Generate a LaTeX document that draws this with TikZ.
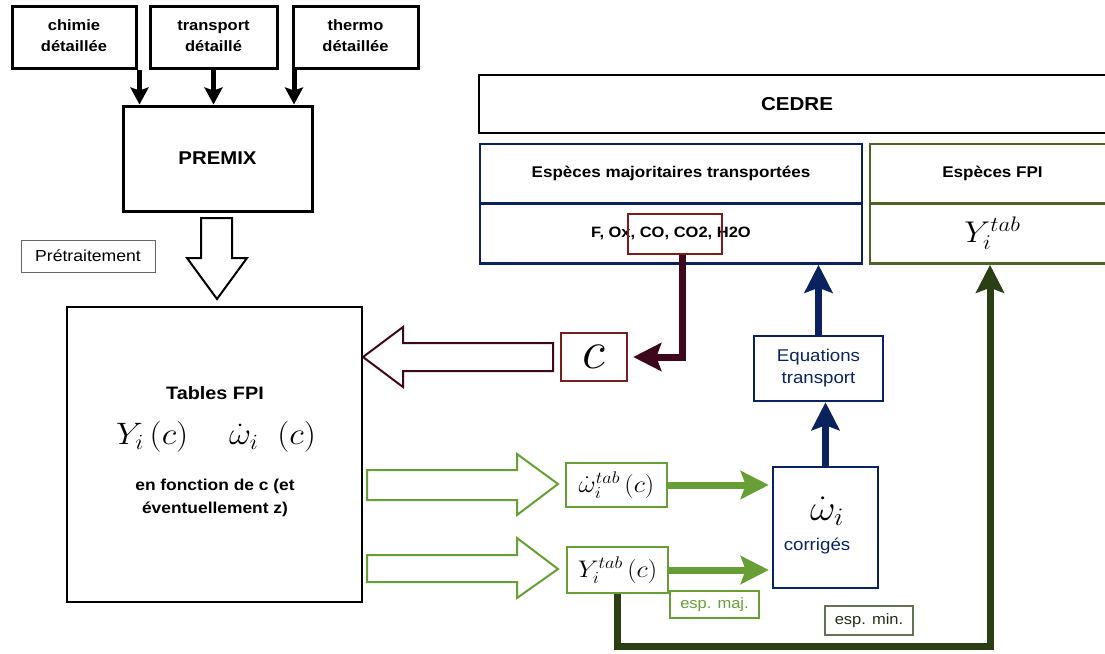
\RequirePackage{fix-cm}
\documentclass[tikz,border=0pt]{standalone}
\usepackage[no-math]{fontspec}
\newfontfamily\arial{Liberation Sans}
\usetikzlibrary{arrows.meta}

\definecolor{navy}{RGB}{10,35,95}
\definecolor{lgreen}{RGB}{104,158,54}
\definecolor{dgreen}{RGB}{42,64,20}
\definecolor{olive}{RGB}{79,98,40}
\definecolor{mingreen}{RGB}{100,115,85}
\definecolor{mintext}{RGB}{35,45,25}
\definecolor{redbox}{RGB}{120,30,30}
\definecolor{maroon}{RGB}{62,8,28}
\definecolor{pgray}{RGB}{100,100,100}

% slightly widened lettering
\newcommand\sx[1]{\scalebox{1.1}[1]{#1}}
\newcommand\twoline[2]{\sx{\begin{tabular}{@{}c@{}}#1\\#2\end{tabular}}}
\newcommand\lbl[2]{\arial\bfseries\fontsize{#1}{#2}\selectfont}
\newcommand\reg[2]{\arial\fontsize{#1}{#2}\selectfont}

\begin{document}
\begin{tikzpicture}[x=1pt,y=-1pt,
  sz/.style 2 args={minimum width=#1pt,minimum height=#2pt},
  box/.style={draw,inner sep=0pt,line width=2.5pt},
  blkarrow/.style={line width=5pt,-{Stealth[length=17pt,width=18pt,inset=3pt]}},
  thick arrow/.style={line width=7pt,-{Stealth[length=28pt,width=28pt,inset=5pt]}},
  hollow/.style={line width=2pt,line join=miter}]

\clip (0,0) rectangle (1105,653);

% ---- inputs and PREMIX
\node[box,line width=3pt,sz={124}{62},font=\lbl{15}{20}] (chimie) at (74,37) {\twoline{chimie}{détaillée}};
\node[box,line width=3pt,sz={127}{62},font=\lbl{15}{20}] (transp) at (213.5,37) {\twoline{transport}{détaillé}};
\node[box,line width=3pt,sz={125}{62},font=\lbl{15}{20}] (thermo) at (355.5,37) {\twoline{thermo}{détaillée}};
\node[box,line width=3pt,sz={189}{105},font=\lbl{18.5}{20}] (premix) at (217.5,158.5) {\sx{PREMIX}};

\coordinate (a1) at ([xshift=2pt]chimie.south east);
\coordinate (a3) at ([xshift=2.5pt]thermo.south west);
\draw[blkarrow] (a1) -- (a1 |- premix.north);
\draw[blkarrow] (transp.south) -- (transp.south |- premix.north);
\draw[blkarrow] (a3) -- (a3 |- premix.north);

% ---- pre-processing
\node[draw=pgray,line width=1pt,inner sep=0pt,sz={134}{32},font=\reg{16}{16}] (pre) at (88,256) {\sx{Prétraitement}};
\draw[hollow] (201,218) -- (232,218) -- (232,258) -- (247,258) -- (217,299)
  -- (187,258) -- (201,258) -- cycle;

% ---- FPI tables
\node[box,sz={295}{295}] (tables) at (214.5,454.5) {};
\node[font=\lbl{18}{20},inner sep=0pt] (ttl) at (215,393) {\sx{Tables FPI}};
\node[font=\fontsize{31}{31}\selectfont,inner sep=0pt] (tfun) at (216,437)
  {\sx{$Y_i\,(c)\hspace{1.2em}\dot{\omega}_i\;\;(c)$}};
\node[font=\lbl{15.8}{23},inner sep=0pt] (tdesc) at (215,497) {\twoline{en fonction de c (et}{éventuellement z)}};

% ---- CEDRE
\node[box,sz={636}{58},font=\lbl{18.7}{20}] (cedre) at (797,104) {\sx{CEDRE}};
\node[box,draw=navy,sz={382}{59},font=\lbl{15.5}{18}] (majt) at (671,173.5) {\sx{Espèces majoritaires transportées}};
\node[box,draw=navy,sz={382}{60},font=\lbl{15}{18}] (majb) at (671,233.5) {\sx{F, Ox, CO, CO2, H2O}};
\node[box,draw=olive,sz={245}{59},font=\lbl{15.5}{18}] (fpit) at (992.5,173.5) {\sx{Espèces FPI}};
\node[box,draw=olive,sz={245}{60},font=\fontsize{30}{30}\selectfont] (fpib) at (992.5,233.5) {\sx{$Y_i^{tab}$}};
\node[box,draw=redbox,sz={94}{40}] (co) at (675,234) {};

% ---- progress variable
\node[box,draw=redbox,sz={66}{48},font=\fontsize{54}{54}\selectfont] (c) at (594,357) {$c$};
\draw[thick arrow,draw=maroon,line join=miter] ([xshift=7pt]co.south) |- ([xshift=5pt]c.east);
\draw[hollow,draw=maroon] (553,343) -- (403,343) -- (403,327) -- (363,357) -- (403,387)
  -- (403,371) -- (553,371) -- cycle;

% ---- tabulated quantities
\node[box,draw=lgreen,sz={101}{44},font=\fontsize{24}{24}\selectfont] (om) at (616.5,485) {\sx{$\dot{\omega}_i^{tab}\,(c)$}};
\node[box,draw=lgreen,sz={101}{46},font=\fontsize{24}{24}\selectfont] (yb) at (617.5,570) {\sx{$Y_i^{tab}\,(c)$}};
\draw[hollow,draw=lgreen] (367,470) -- (517,470) -- (517,454) -- (558,484) -- (517,515)
  -- (517,500) -- (367,500) -- cycle;
\draw[hollow,draw=lgreen] (367,555) -- (517,555) -- (517,538) -- (558,569) -- (517,598)
  -- (517,582) -- (367,582) -- cycle;

% ---- corrected source terms and transport
\node[box,draw=navy,sz={105}{121}] (corr) at (825.5,527.5) {};
\node[font=\fontsize{36}{36}\selectfont,inner sep=0pt] (omc) at (827,511) {\sx{$\dot{\omega}_i$}};
\node[font=\reg{17}{17},text=navy,inner sep=0pt] (corrt) at (817,546) {\sx{corrigés}};
\node[box,draw=navy,sz={129}{65},font=\reg{17}{22},text=navy] (eq) at (818.5,368.5) {\twoline{Equations}{transport}};

\draw[thick arrow,draw=lgreen,shorten >=3pt] (om.east) -- (om.east -| corr.west);
\draw[thick arrow,draw=lgreen,shorten >=3pt] (yb.east) -- (yb.east -| corr.west);
\draw[thick arrow,draw=navy] (corr.north) -- (corr.north |- eq.south);
\draw[thick arrow,draw=navy] (eq.north) -- (eq.north |- majb.south);

% ---- minor species back to CEDRE
\draw[thick arrow,draw=dgreen,line join=miter] (yb.south) -- ++(0,52) -| ([xshift=-2.5pt]fpib.south);

\node[draw=lgreen,line width=1.5pt,inner sep=0pt,sz={89}{27},font=\reg{15}{15},text=lgreen] (emaj) at (714.5,604.5) {\sx{esp. maj.}};
\node[draw=mingreen,line width=1.5pt,fill=white,inner sep=0pt,sz={88}{29},font=\reg{15}{15},text=mintext] (emin) at (869,620.5) {\sx{esp. min.}};
\end{tikzpicture}
\end{document}
